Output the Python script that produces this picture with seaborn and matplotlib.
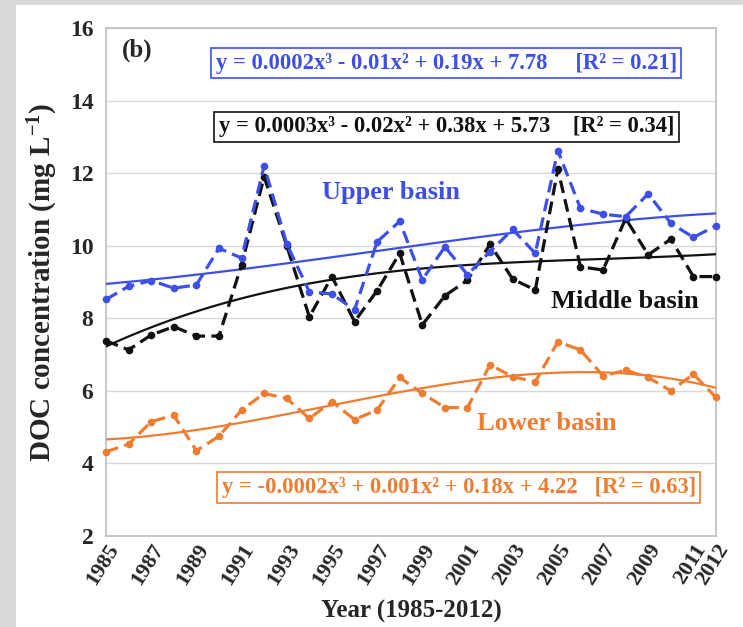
import numpy as np
import pandas as pd
import seaborn as sns
import matplotlib
matplotlib.use("Agg")
import matplotlib.pyplot as plt
from matplotlib.patches import Rectangle

years = list(range(1985, 2013))
upper = [8.52, 8.88, 9.04, 8.83, 8.92, 9.93, 9.66, 12.2, 10.05, 8.73, 8.67, 8.23, 10.11, 10.67,
         9.06, 9.97, 9.2, 9.84, 10.45, 9.79, 12.62, 11.03, 10.87, 10.8, 11.43, 10.62, 10.23, 10.55]
middle = [7.38, 7.13, 7.54, 7.77, 7.51, 7.51, 9.47, 11.9, 10.0, 8.04, 9.15, 7.91, 8.76, 9.79,
          7.82, 8.62, 9.05, 10.04, 9.08, 8.78, 12.11, 9.42, 9.33, 10.75, 9.75, 10.18, 9.15, 9.15]
lower = [4.32, 4.53, 5.15, 5.33, 4.35, 4.75, 5.47, 5.93, 5.79, 5.24, 5.7, 5.21, 5.47, 6.37,
         5.93, 5.54, 5.54, 6.72, 6.39, 6.25, 7.35, 7.13, 6.41, 6.57, 6.37, 6.0, 6.46, 5.82]

xtick_years = list(range(1985, 2012, 2)) + [2012]
ytick_vals = [2, 4, 6, 8, 10, 12, 14, 16]

eq_upper = "y = 0.0002x³ - 0.01x² + 0.19x + 7.78     [R² = 0.21]"
eq_middle = "y = 0.0003x³ - 0.02x² + 0.38x + 5.73    [R² = 0.34]"
eq_lower = "y = -0.0002x³ + 0.001x² + 0.18x + 4.22   [R² = 0.63]"

C_UP = "#3d4fe8"
C_MID = "#111111"
C_LOW = "#ee7d31"

df = pd.DataFrame({"year": years, "upper": upper, "middle": middle, "lower": lower})

sns.set_style("white")
plt.rcParams["font.family"] = ["Liberation Serif", "DejaVu Serif"]
plt.rcParams["font.weight"] = "bold"
plt.rcParams["mathtext.default"] = "regular"

fig = plt.figure(figsize=(7.43, 6.27), dpi=100, facecolor="#d9d9d9")
fig.patches.append(Rectangle((16 / 743, 0), 1, 1 - 5 / 627, transform=fig.transFigure,
                             facecolor="white", edgecolor="none", zorder=-10))
ax = fig.add_axes([106 / 743, 1 - 536 / 627, 610 / 743, 508 / 627])
ax.set_facecolor("white")

# trend lines (cubic fits)
for col, c in [("lower", C_LOW), ("middle", C_MID), ("upper", C_UP)]:
    sns.regplot(data=df, x="year", y=col, order=3, ci=None, scatter=False, ax=ax,
                color=c, line_kws=dict(lw=1.6, zorder=3))

# observed series
for col, c, z in [("lower", C_LOW, 4), ("middle", C_MID, 5), ("upper", C_UP, 6)]:
    sns.lineplot(data=df, x="year", y=col, ax=ax, color=c, lw=2.3,
                 linestyle=(0, (4, 2)), marker="o", markersize=5.5,
                 markeredgewidth=0, clip_on=False, zorder=z)

ax.set_xlim(1985, 2012)
ax.set_ylim(2, 16)
ax.set_yticks(ytick_vals)
ax.set_yticklabels([str(v) for v in ytick_vals], fontsize=17, fontweight="bold")
ax.set_xticks(xtick_years)
ax.set_xticks(years, minor=True)
ax.set_xticklabels([str(y) for y in xtick_years], rotation=58, ha="right",
                   rotation_mode="anchor", fontsize=16, fontweight="bold")
ax.tick_params(axis="x", which="major", direction="in", length=7, width=2,
               color="black", pad=3)
ax.tick_params(axis="x", which="minor", direction="in", length=4, width=1,
               color="#aaaaaa")
ax.tick_params(axis="y", length=0, pad=9)
ax.yaxis.grid(True, color="#d9d9d9", lw=1)
ax.set_axisbelow(True)
for s in ax.spines.values():
    s.set_color("#bfbfbf")
    s.set_linewidth(1.2)
    s.set_visible(True)

ax.set_xlabel("Year (1985-2012)", fontsize=18, fontweight="bold", labelpad=8)
ax.set_ylabel("DOC concentration (mg L$^{-1}$)", fontsize=21, fontweight="bold", labelpad=7)

ax.text(0.051, 0.957, "(b)", transform=ax.transAxes, fontsize=18, fontweight="bold",
        ha="center", va="center")

def eqbox(x, y, s, c):
    ax.text(x, y, s, transform=ax.transAxes, fontsize=16.3, fontweight="bold", color=c,
            ha="center", va="center", zorder=10,
            bbox=dict(boxstyle="square,pad=0.2", facecolor="white", edgecolor=c, lw=1.2))

eqbox(0.558, 0.931, eq_upper, C_UP)
eqbox(0.558, 0.806, eq_middle, C_MID)
eqbox(0.578, 0.0955, eq_lower, C_LOW)

ax.text(0.468, 0.677, "Upper basin", transform=ax.transAxes, fontsize=19,
        fontweight="bold", color=C_UP, ha="center", va="center")
ax.text(0.851, 0.461, "Middle basin", transform=ax.transAxes, fontsize=19,
        fontweight="bold", color=C_MID, ha="center", va="center")
ax.text(0.723, 0.222, "Lower basin", transform=ax.transAxes, fontsize=19,
        fontweight="bold", color=C_LOW, ha="center", va="center")

fig.savefig("out.png", dpi=100, facecolor=fig.get_facecolor())
